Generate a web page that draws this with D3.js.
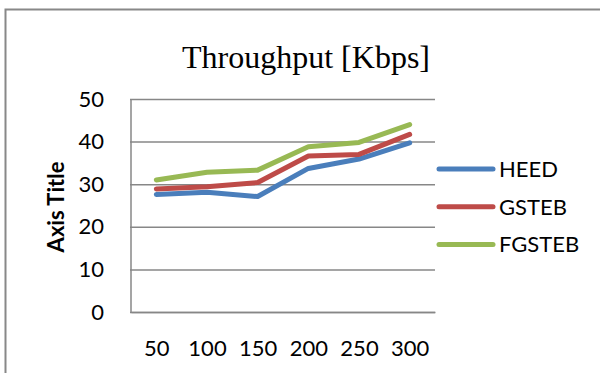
<!DOCTYPE html>
<html>
<head>
<meta charset="utf-8">
<script src="https://cdn.jsdelivr.net/npm/d3@7"></script>
<style>
  body { margin: 0; background: #fff; }
  svg { display: block; font-family: Lato, "Open Sans", sans-serif; }
</style>
</head>
<body>
<div id="svg-container"></div>
<script>
// data
const categories = ["50", "100", "150", "200", "250", "300"];
const seriesNames = ["HEED", "GSTEB", "FGSTEB"];
const heed = [27.6, 28.1, 27.1, 33.7, 35.9, 39.7];
const gsteb = [28.9, 29.4, 30.4, 36.6, 37.0, 41.7];
const fgsteb = [31.0, 32.8, 33.3, 38.8, 39.8, 44.0];
const yTicks = [0, 10, 20, 30, 40, 50];

const seriesValues = [heed, gsteb, fgsteb];
const colors = ["#4A7EBB", "#BE4B48", "#98B954"];

const width = 600;
const height = 373;
const plot = { left: 131, right: 435, top: 99, bottom: 312 };

const svg = d3.select("#svg-container").append("svg")
    .attr("width", width)
    .attr("height", height);

// outer chart border (cut off at right / bottom)
svg.append("rect")
    .attr("x", 5.5).attr("y", 9.5)
    .attr("width", width + 20).attr("height", height + 20)
    .attr("fill", "none")
    .attr("stroke", "#888")
    .attr("stroke-width", 2);

// scales
const xScale = d3.scalePoint().domain(categories).range([plot.left, plot.right]).padding(0.5);
const yScale = d3.scaleLinear().domain([0, 50]).range([plot.bottom, plot.top]);

// y axis with gridlines
const yAxis = d3.axisLeft(yScale)
    .tickValues(yTicks)
    .tickSize(-(plot.right - plot.left + 1))
    .tickPadding(26);

const gy = svg.append("g")
    .attr("transform", `translate(${plot.left - 1},0)`)
    .call(yAxis);
gy.select(".domain").remove();
gy.selectAll(".tick line").attr("stroke", "#878787").attr("stroke-width", 1.5);
gy.selectAll(".tick text")
    .attr("fill", "#000")
    .style("font-size", "22px")
    .style("font-family", "Lato, 'Open Sans', sans-serif");

// vertical axis line
svg.append("line")
    .attr("x1", plot.left).attr("x2", plot.left)
    .attr("y1", yScale(50)).attr("y2", yScale(0))
    .attr("stroke", "#878787").attr("stroke-width", 1.5);

// x axis
const xAxis = d3.axisBottom(xScale).tickSize(0).tickSizeOuter(0).tickPadding(28);
const gx = svg.append("g")
    .attr("transform", `translate(0,${plot.bottom})`)
    .call(xAxis);
gx.select(".domain").attr("stroke", "#878787").attr("stroke-width", 1.5);
gx.selectAll(".tick text")
    .attr("fill", "#000")
    .style("font-size", "22px")
    .style("font-family", "Lato, 'Open Sans', sans-serif");

// lines
const line = d3.line()
    .x((d, i) => xScale(categories[i]))
    .y((d) => yScale(d));

svg.selectAll(".series")
    .data(seriesValues)
    .enter().append("path")
    .attr("class", "series")
    .attr("d", (d) => line(d))
    .attr("fill", "none")
    .attr("stroke", (d, i) => colors[i])
    .attr("stroke-width", 5)
    .attr("stroke-linecap", "round")
    .attr("stroke-linejoin", "round");

// title
svg.append("text")
    .attr("x", 306)
    .attr("y", 68)
    .attr("text-anchor", "middle")
    .style("font-family", "'Liberation Serif', 'Times New Roman', serif")
    .style("font-size", "32px")
    .text("Throughput [Kbps]");

// axis title
svg.append("text")
    .attr("transform", "translate(64,207) rotate(-90)")
    .attr("text-anchor", "middle")
    .style("font-size", "22px")
    .style("font-weight", "bold")
    .text("Axis Title");

// legend
const legend = svg.selectAll(".legend")
    .data(seriesNames)
    .enter().append("g")
    .attr("class", "legend")
    .attr("transform", (d, i) => `translate(439,${169 + i * 37.8})`);

legend.append("line")
    .attr("x1", 0).attr("x2", 54)
    .attr("stroke", (d, i) => colors[i])
    .attr("stroke-width", 5)
    .attr("stroke-linecap", "round");

legend.append("text")
    .attr("x", 60)
    .attr("dy", "0.35em")
    .style("font-size", "22px")
    .text((d) => d);
</script>
</body>
</html>
